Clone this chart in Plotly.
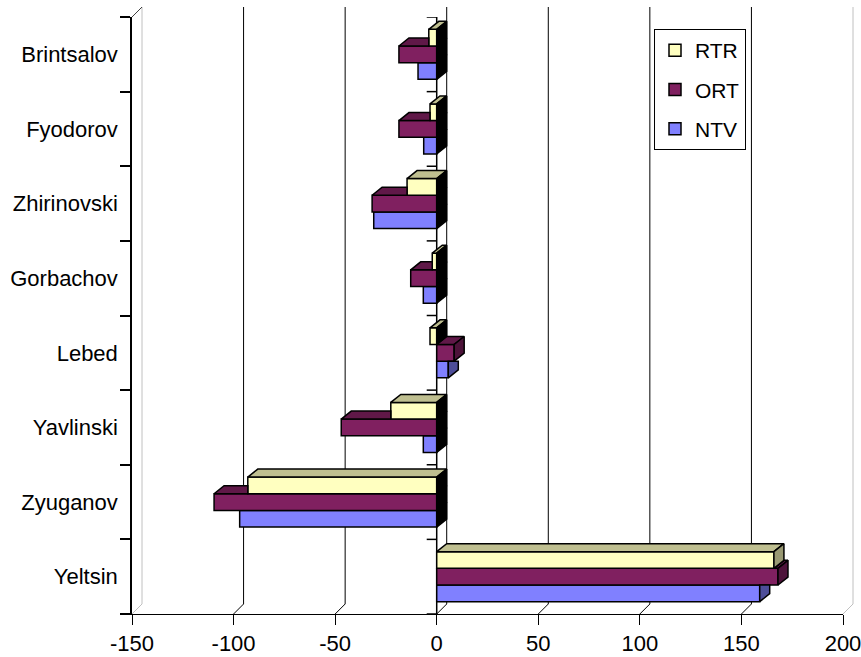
import plotly.graph_objects as go

# ---------------- data ----------------
candidates = ["Yeltsin", "Zyuganov", "Yavlinski", "Lebed", "Gorbachov",
              "Zhirinovski", "Fyodorov", "Brintsalov"]
series_names = ["NTV", "ORT", "RTR"]
ntv = [159, -97, -6.6, 5.7, -6.6, -31.0, -6.4, -9.2]
ort = [168, -109.6, -47.0, 8.6, -12.8, -31.8, -18.6, -18.6]
rtr = [166, -93.0, -22.6, -3.3, -2.2, -14.6, -3.3, -3.9]
x_ticks = [-150, -100, -50, 0, 50, 100, 150, 200]
x_tick_labels = ["-150", "-100", "-50", "0", "50", "100", "150", "200"]

# ---------------- style ----------------
front_colors = ["#8080FF", "#802060", "#FFFFC0"]
top_colors = ["#6060C0", "#601848", "#BFBF90"]
side_colors = ["#4D4D99", "#4D133A", "#999973"]
FONT = "Liberation Sans, Arial, sans-serif"

WIDTH, HEIGHT = 861, 657
ML, MR, MT, MB = 132, 18, 17, 43
PW = WIDTH - ML - MR
PH = HEIGHT - MT - MB
X_RANGE = [-150, 200]
Y_RANGE = [-0.5, len(candidates) - 0.5]
UX = (X_RANGE[1] - X_RANGE[0]) / PW   # data units per px
UY = (Y_RANGE[1] - Y_RANGE[0]) / PH
BAR_DX = 10 * UX
BAR_DY = 8 * UY
GROUP = 0.67
BW = GROUP / 3
WALL_DX = 10 / PW     # paper units
WALL_DY = 10 / PH

values = [ntv, ort, rtr]
ypos = list(range(len(candidates)))

fig = go.Figure()

# front faces: bar traces
for k, name in enumerate(series_names):
    fig.add_trace(go.Bar(
        x=values[k], y=ypos, orientation="h", name=name,
        width=BW, offset=-GROUP / 2 + k * BW,
        marker=dict(color=front_colors[k], line=dict(color="black", width=1.5)),
        legendgroup=name, legendrank=3 - k, hoverinfo="skip"))


def poly(xs, ys, color):
    fig.add_trace(go.Scatter(
        x=list(xs) + [xs[0]], y=list(ys) + [ys[0]], mode="lines",
        fill="toself", fillcolor=color, line=dict(color="black", width=1.5),
        showlegend=False, hoverinfo="skip"))


# 3D depth faces (top and side), computed from the values
for i in range(len(candidates)):
    for k in range(3):
        v = values[k][i]
        yb = i - GROUP / 2 + k * BW
        yt = yb + BW
        u = values[k + 1][i] if k < 2 else None
        # top face
        if v >= 0:
            cut = max(u, 0) if u is not None else 0
            if v > cut:
                poly([cut, v, v + BAR_DX, cut + BAR_DX],
                     [yt, yt, yt + BAR_DY, yt + BAR_DY], top_colors[k])
        else:
            if u is None:
                poly([v, v + BAR_DX, BAR_DX, 0],
                     [yt, yt + BAR_DY, yt + BAR_DY, yt], top_colors[k])
            else:
                cut = min(u, 0)
                if v < cut:
                    if v + BAR_DX < cut:
                        poly([v, v + BAR_DX, cut, cut],
                             [yt, yt + BAR_DY, yt + BAR_DY, yt], top_colors[k])
                    else:
                        poly([v, cut, cut],
                             [yt, yt + BAR_DY * (cut - v) / BAR_DX, yt], top_colors[k])
        # side face
        if v >= 0:
            x0, col = v, side_colors[k]
            clip = u is not None and u >= v
        else:
            x0, col = 0, "black"
            clip = u is not None and u > 0
        if clip:
            poly([x0, x0, x0 + BAR_DX, x0 + BAR_DX],
                 [yb, yt, yt, yb + BAR_DY], col)
        else:
            poly([x0, x0, x0 + BAR_DX, x0 + BAR_DX],
                 [yb, yt, yt + BAR_DY, yb + BAR_DY], col)

# ---------------- back plane / floor decorations ----------------
shapes = []


def xp(v):
    return (v - X_RANGE[0]) / (X_RANGE[1] - X_RANGE[0])


for v in x_ticks:
    col = "#C0C0C0" if v in (X_RANGE[0], X_RANGE[1]) else "black"
    shapes.append(dict(type="line", xref="paper", yref="paper", layer="below",
                       x0=xp(v) + WALL_DX, x1=xp(v) + WALL_DX,
                       y0=WALL_DY, y1=1 + WALL_DY, line=dict(color=col, width=1)))
    shapes.append(dict(type="line", xref="paper", yref="paper", layer="below",
                       x0=xp(v), x1=xp(v) + WALL_DX, y0=0, y1=WALL_DY,
                       line=dict(color=col, width=1)))
shapes.append(dict(type="line", xref="paper", yref="paper", layer="below",
                   x0=0, x1=WALL_DX, y0=1, y1=1 + WALL_DY,
                   line=dict(color="#404040", width=1)))
# category axis at zero (front)
shapes.append(dict(type="line", xref="x", yref="paper", layer="below",
                   x0=0, x1=0, y0=0, y1=1, line=dict(color="black", width=1.5)))
for j in range(len(candidates) + 1):
    yy = Y_RANGE[0] + j
    shapes.append(dict(type="line", xref="x", yref="y", layer="below",
                       x0=-10 * UX, x1=0, y0=yy, y1=yy,
                       line=dict(color="black", width=1.5)))

fig.update_layout(
    width=WIDTH, height=HEIGHT,
    margin=dict(l=ML, r=MR, t=MT, b=MB, pad=0),
    paper_bgcolor="white", plot_bgcolor="rgba(0,0,0,0)",
    font=dict(family=FONT, size=22, color="black"),
    barmode="overlay",
    shapes=shapes,
    xaxis=dict(range=X_RANGE, tickvals=x_ticks, ticktext=x_tick_labels,
               ticks="outside", ticklen=10, automargin=False,
               ticklabeloverflow="allow",
               tickcolor="black", showline=True, linecolor="black", linewidth=1,
               showgrid=False, zeroline=False, tickfont=dict(size=22)),
    yaxis=dict(range=Y_RANGE, tickvals=ypos, ticktext=candidates, ticks="",
               automargin=False,
               showline=True, linecolor="black", linewidth=1.5,
               showgrid=False, zeroline=False, tickfont=dict(size=22),
               ticklabelstandoff=8,
               minor=dict(tick0=-0.5, dtick=1, ticks="outside", ticklen=10,
                          tickcolor="black", tickwidth=1.5, showgrid=False)),
    legend=dict(x=(654 - ML) / PW, y=1 - (29 - MT) / PH, xanchor="left",
                yanchor="top", bordercolor="black", borderwidth=1,
                bgcolor="white", font=dict(size=21),
                traceorder="grouped", tracegroupgap=9),
)

fig.write_html("out.html")
